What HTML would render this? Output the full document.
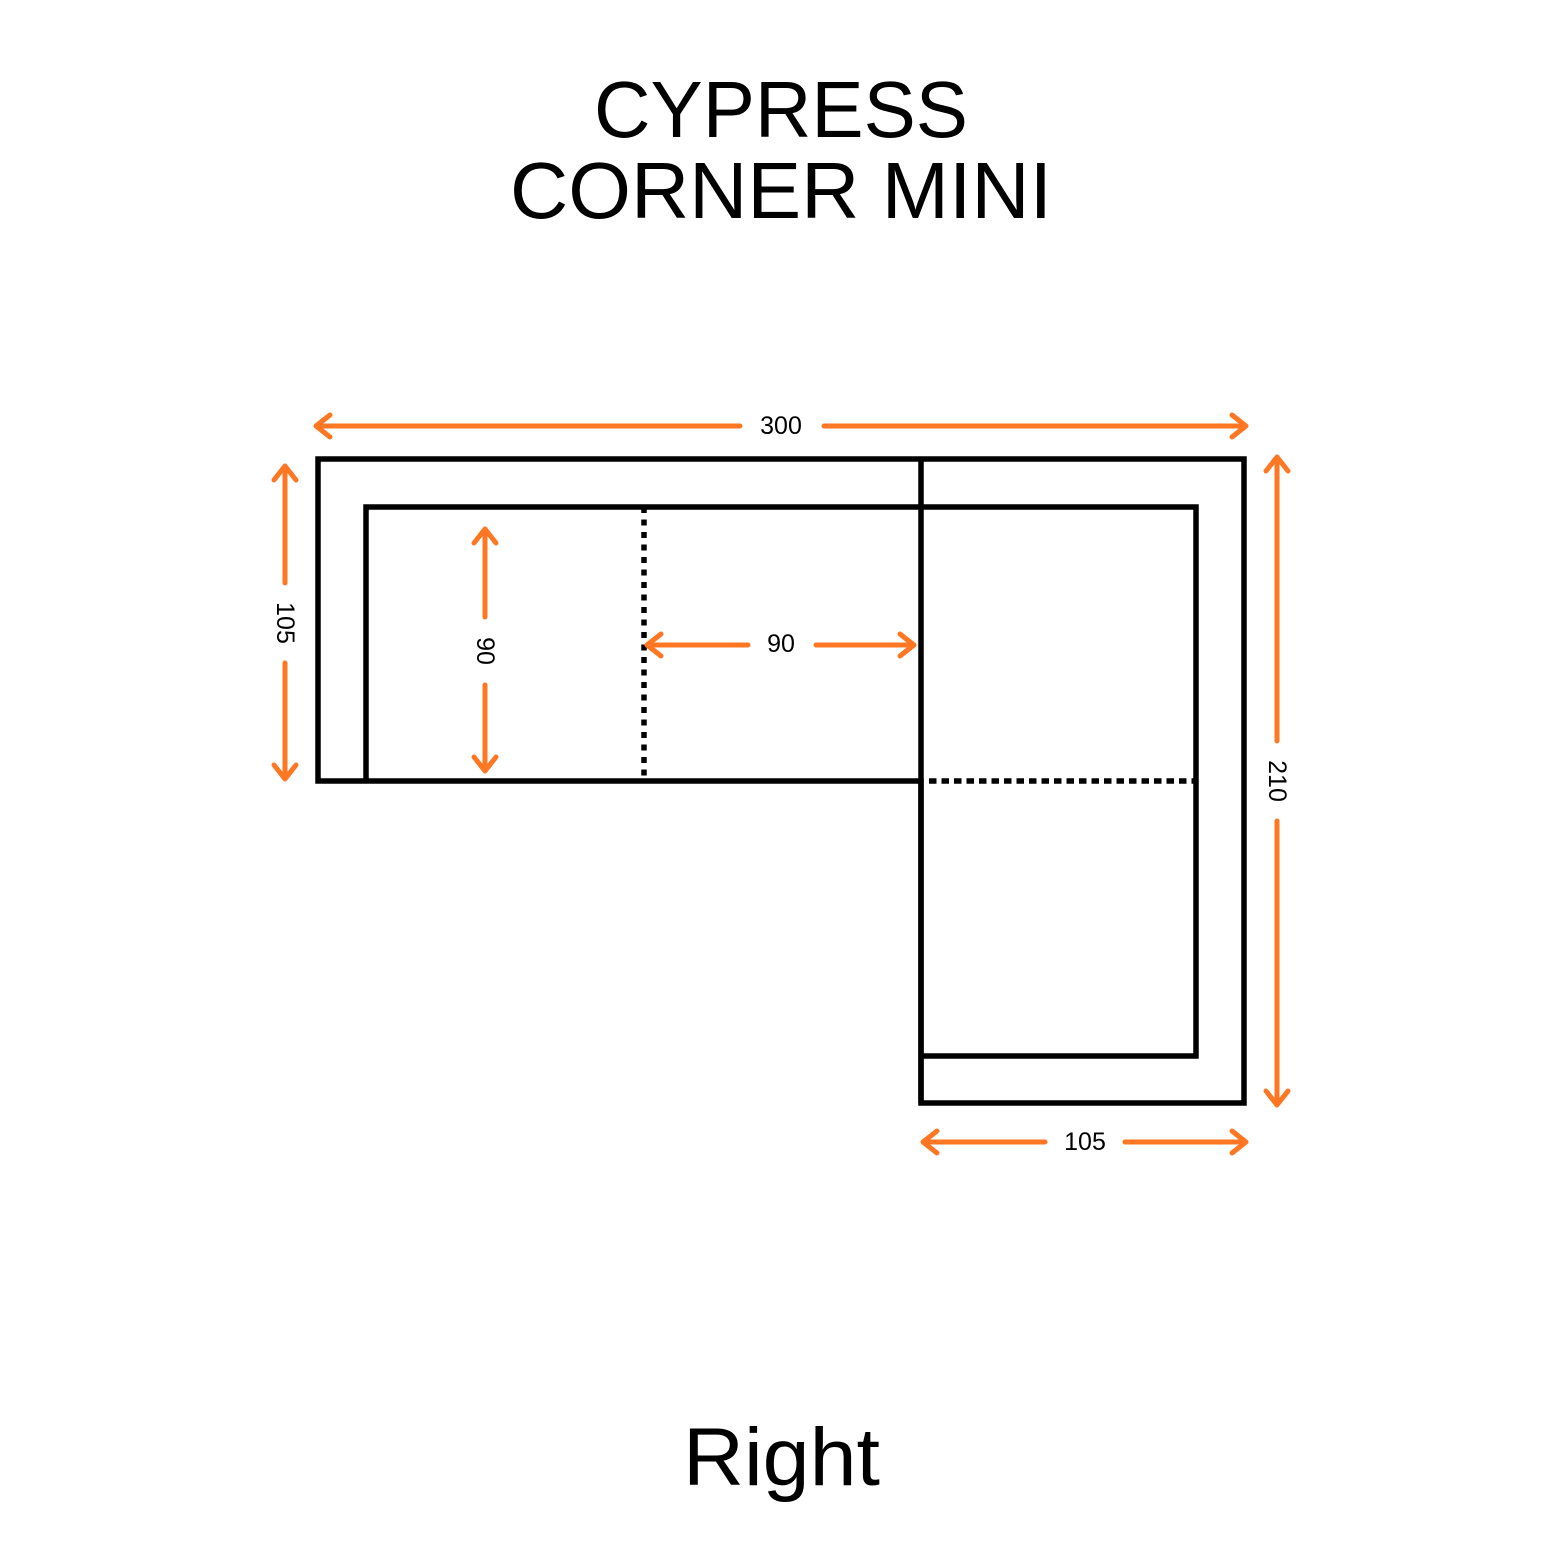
<!DOCTYPE html>
<html><head><style>html,body{margin:0;padding:0;background:#fff}</style></head>
<body>
<svg width="1563" height="1563" viewBox="0 0 1563 1563" xmlns="http://www.w3.org/2000/svg" font-family="Liberation Sans, sans-serif">
<rect width="1563" height="1563" fill="#fff"/>
<text x="594" y="137" font-size="80" textLength="374" lengthAdjust="spacingAndGlyphs" fill="#000">CYPRESS</text>
<text x="510" y="218" font-size="80" textLength="542" lengthAdjust="spacingAndGlyphs" fill="#000">CORNER MINI</text>
<text x="683" y="1485" font-size="82" textLength="197" lengthAdjust="spacingAndGlyphs" fill="#000">Right</text>
<g fill="none" stroke="#000" stroke-width="5.5">
<path d="M318,459 H1244 V1103 H921 V781 H318 Z"/>
<path d="M366,781 V507 H1196 V1056 H921"/>
<path d="M921,459 V1103"/>
<path d="M644,507 V781" stroke-dasharray="6,6.5"/>
<path d="M929,781 H1196" stroke-dasharray="7.5,5"/>
</g>
<g stroke="#FF7722" stroke-width="5" fill="none" stroke-linecap="round" stroke-linejoin="round">
<path d="M316,426 H740 M824,426 H1246 M330,415 L316,426 L330,437 M1232,415 L1246,426 L1232,437"/>
<path d="M285,466 V583 M285,663 V779 M274,480 L285,466 L296,480 M274,765 L285,779 L296,765"/>
<path d="M485,529 V617 M485,685 V771 M474,543 L485,529 L496,543 M474,757 L485,771 L496,757"/>
<path d="M647,645 H748 M816,645 H914 M661,634 L647,645 L661,656 M900,634 L914,645 L900,656"/>
<path d="M1277,457 V741 M1277,821 V1105 M1266,471 L1277,457 L1288,471 M1266,1091 L1277,1105 L1288,1091"/>
<path d="M923,1142 H1045 M1125,1142 H1246 M937,1131 L923,1142 L937,1153 M1232,1131 L1246,1142 L1232,1153"/>
</g>
<g font-size="25" fill="#000" text-anchor="middle">
<text x="781" y="434">300</text>
<text x="781" y="652">90</text>
<text x="1085" y="1150">105</text>
<text transform="translate(277,623) rotate(90)">105</text>
<text transform="translate(477,651) rotate(90)">90</text>
<text transform="translate(1269,781) rotate(90)">210</text>
</g>
</svg>
</body></html>
